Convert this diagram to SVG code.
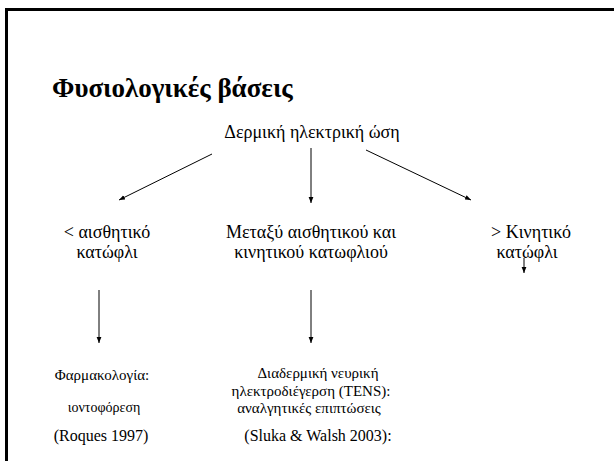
<svg xmlns="http://www.w3.org/2000/svg" width="614" height="461" viewBox="0 0 614 461">
<style>
  text { font-family: "Liberation Serif", serif; fill: #000; }
  .title { font-size: 27px; font-weight: bold; }
  .m { font-size: 18px; text-anchor: middle; }
  .s { font-size: 15px; text-anchor: middle; }
  .r { font-size: 16px; text-anchor: middle; }
  .c { stroke: #000; stroke-width: 1; fill: none; marker-end: url(#ah); }
</style>
<defs>
  <marker id="ah" viewBox="0 0 10 10" refX="10" refY="5" markerWidth="6" markerHeight="6" orient="auto" markerUnits="userSpaceOnUse">
    <path d="M0,1 L10,5 L0,9 Z" fill="#000"/>
  </marker>
</defs>
<rect x="0" y="0" width="614" height="461" fill="#fff"/>
<g id="frame">
  <path d="M6.5,461 V9.5 H614" stroke="#000" stroke-width="3" fill="none"/>
</g>
<g id="title"><text class="title" x="52" y="97">Φυσιολογικές βάσεις</text></g>
<g id="root"><text class="m" x="312" y="138">Δερμική ηλεκτρική ώση</text></g>
<g id="below">
  <text class="m" x="107" y="238">&lt; αισθητικό</text>
  <text class="m" x="107" y="258">κατώφλι</text>
</g>
<g id="between">
  <text class="m" x="311" y="238">Μεταξύ αισθητικού και</text>
  <text class="m" x="311" y="258">κινητικού κατωφλιού</text>
</g>
<g id="above">
  <text class="m" x="531" y="238">&gt; Κινητικό</text>
  <text class="m" x="527" y="258">κατώφλι</text>
</g>
<g id="pharma">
  <text class="s" x="102" y="380">Φαρμακολογία:</text>
  <text class="s" x="104" y="412" style="font-size:14px">ιοντοφόρεση</text>
  <text class="r" x="101" y="441">(Roques 1997)</text>
</g>
<g id="tens">
  <text class="s" x="318" y="378">Διαδερμική νευρική</text>
  <text class="s" x="311" y="396">ηλεκτροδιέγερση (TENS):</text>
  <text class="s" x="309" y="413">αναλγητικές επιπτώσεις</text>
  <text class="r" x="318" y="441">(Sluka &amp; Walsh 2003):</text>
</g>
<g id="connectors">
  <line class="c" x1="212" y1="154" x2="119" y2="200"/>
  <line class="c" x1="311" y1="148" x2="311" y2="203"/>
  <line class="c" x1="366" y1="150" x2="471" y2="200"/>
  <line class="c" x1="524" y1="258" x2="524" y2="273"/>
  <line class="c" x1="99" y1="290" x2="99" y2="343"/>
  <line class="c" x1="311" y1="290" x2="311" y2="343"/>
</g>
</svg>
